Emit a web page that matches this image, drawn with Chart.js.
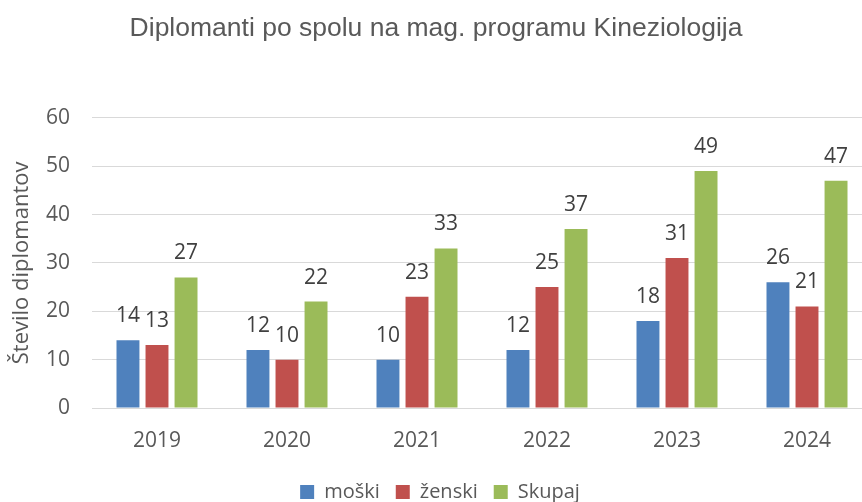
<!DOCTYPE html>
<html>
<head>
<meta charset="utf-8">
<script src="https://cdn.jsdelivr.net/npm/chart.js@4/dist/chart.umd.min.js"></script>
<style>
  html, body { margin: 0; padding: 0; overflow: hidden; background: #fff; }
  #wrap { width: 872px; height: 502px; }
</style>
</head>
<body>
<div id="wrap"><canvas id="chart" width="872" height="502"></canvas></div>
<script>
const years = ["2019", "2020", "2021", "2022", "2023", "2024"];
const moski = [14, 12, 10, 12, 18, 26];
const zenski = [13, 10, 23, 25, 31, 21];
const skupaj = [27, 22, 33, 37, 49, 47];
const yTicks = [0, 10, 20, 30, 40, 50, 60];

const tickFont = { family: "Open Sans", size: 21 };

// labels above each bar
const barLabels = {
  id: "barLabels",
  afterDatasetsDraw(chart) {
    const ctx = chart.ctx;
    ctx.save();
    ctx.font = "21px 'Open Sans'";
    ctx.fillStyle = "#404040";
    ctx.textAlign = "center";
    ctx.textBaseline = "alphabetic";
    chart.data.datasets.forEach((ds, i) => {
      chart.getDatasetMeta(i).data.forEach((bar, j) => {
        ctx.fillText(ds.data[j], bar.x, bar.y - 18);
      });
    });
    ctx.restore();
  }
};

// nudge the legend a little to the right
const legendShift = {
  id: "legendShift",
  afterLayout(chart) {
    chart.legend.left += 4;
    chart.legend.right += 4;
  }
};

new Chart(document.getElementById("chart"), {
  type: "bar",
  data: {
    labels: years,
    datasets: [
      { label: "moški", data: moski, backgroundColor: "#4f81bd" },
      { label: "ženski", data: zenski, backgroundColor: "#c0504d" },
      { label: "Skupaj", data: skupaj, backgroundColor: "#9bbb59" }
    ]
  },
  options: {
    responsive: false,
    animation: false,
    layout: { padding: { left: 0, right: 0, top: 0, bottom: -10 } },
    datasets: { bar: { categoryPercentage: 0.67, barPercentage: 0.79 } },
    plugins: {
      title: {
        display: true,
        text: "Diplomanti po spolu na mag. programu Kineziologija",
        color: "#595959",
        font: { family: "Liberation Sans", size: 26.5, weight: "normal" },
        padding: { top: 13, bottom: 73 }
      },
      legend: {
        position: "bottom",
        labels: {
          color: "#595959",
          font: { family: "Open Sans", size: 20 },
          boxWidth: 14,
          boxHeight: 14,
          padding: 16
        }
      },
      tooltip: { enabled: false }
    },
    scales: {
      x: {
        grid: { display: false, drawTicks: false },
        border: { color: "#d9d9d9" },
        ticks: { color: "#595959", font: tickFont, padding: 20 },
        afterFit(scale) { scale.height = 58; }
      },
      y: {
        min: 0,
        max: 60,
        afterBuildTicks(scale) { scale.ticks = yTicks.map(v => ({ value: v })); },
        afterFit(scale) { scale.width = 92; },
        grid: { color: "#d9d9d9", drawTicks: false },
        border: { display: false },
        ticks: { color: "#595959", font: tickFont, padding: 22 },
        title: {
          display: true,
          text: "Število diplomantov",
          color: "#595959",
          font: { family: "Open Sans", size: 22 },
          padding: { top: 9, bottom: 10 }
        }
      }
    }
  },
  plugins: [barLabels, legendShift]
});
</script>
</body>
</html>
